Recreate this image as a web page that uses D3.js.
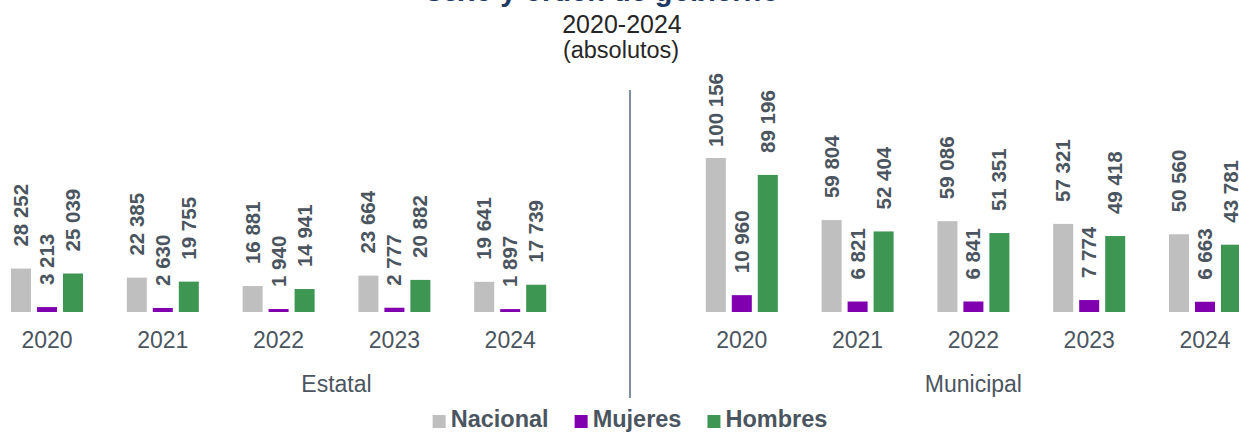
<!DOCTYPE html>
<html>
<head>
<meta charset="utf-8">
<script src="https://cdn.jsdelivr.net/npm/d3@7"></script>
<style>
  body { margin: 0; background: #fff; }
  svg { display: block; font-family: "Liberation Sans", Arial, sans-serif; }
</style>
</head>
<body>
<svg id="chart" width="1239" height="432"></svg>
<script>
// data
const years = ['2020', '2021', '2022', '2023', '2024']
const panels = ['Estatal', 'Municipal']
const series = ['Nacional', 'Mujeres', 'Hombres']
const estatalNacional = [28252, 22385, 16881, 23664, 19641]
const estatalMujeres = [3213, 2630, 1940, 2777, 1897]
const estatalHombres = [25039, 19755, 14941, 20882, 17739]
const municipalNacional = [100156, 59804, 59086, 57321, 50560]
const municipalMujeres = [10960, 6821, 6841, 7774, 6663]
const municipalHombres = [89196, 52404, 51351, 49418, 43781]
const colors = ['#bfbfbf', '#8000b0', '#3d9651']

const values = {
  Estatal: [estatalNacional, estatalMujeres, estatalHombres],
  Municipal: [municipalNacional, municipalMujeres, municipalHombres]
}

const svg = d3.select('#chart')
const textColor = '#4b5560'

// slots: 5 years, an empty slot, 5 years
const slots = [...years.map(y => 'E' + y), 'gap', ...years.map(y => 'M' + y)]
const x = d3.scaleBand().domain(slots).range([-10.9, 1262.9])
const xi = d3.scaleBand().domain(series).range([-36, 36]).paddingInner(0.23)
const y = d3.scaleLinear().domain([0, 110000]).range([312, 312 - 169.1])

const rows = []
panels.forEach(p => {
  years.forEach((yr, i) => {
    series.forEach((s, j) => {
      rows.push({ slot: p[0] + yr, serie: s, value: values[p][j][i], color: colors[j] })
    })
  })
})

const cx = d => x(d.slot) + x.bandwidth() / 2 + xi(d.serie)

// title (top line cut by the frame)
svg.append('text')
  .attr('x', 426).attr('y', 0.5)
  .style('font', 'bold 29px "Liberation Sans", Arial, sans-serif')
  .attr('fill', '#1f3864')
  .text('sexo y orden de gobierno')

svg.append('text')
  .attr('x', 622).attr('y', 33)
  .attr('text-anchor', 'middle')
  .style('font-size', '25px')
  .attr('fill', '#262626')
  .text('2020-2024')

svg.append('text')
  .attr('x', 621).attr('y', 58)
  .attr('text-anchor', 'middle')
  .style('font-size', '23.5px')
  .attr('fill', '#262626')
  .text('(absolutos)')

// bars
svg.append('g').selectAll('rect')
  .data(rows)
  .enter()
  .append('rect')
  .attr('x', d => cx(d))
  .attr('y', d => y(d.value))
  .attr('width', xi.bandwidth())
  .attr('height', d => y(0) - y(d.value))
  .attr('fill', d => d.color)

// value labels, rotated
const fmt = v => d3.format(',')(v).replace(/,/g, ' ')
svg.append('g').selectAll('text')
  .data(rows)
  .enter()
  .append('text')
  .style('font', 'bold 20.5px "Liberation Sans", Arial, sans-serif')
  .attr('fill', textColor)
  .text(d => fmt(d.value))
  .each(function (d) {
    const len = this.getComputedTextLength()
    let base = y(d.value) - 22
    if (base - len < 73) base = 73 + len
    const tx = cx(d) + xi.bandwidth() / 2 + 7
    d3.select(this).attr('transform', 'translate(' + tx + ',' + base + ') rotate(-90)')
  })

// year labels
svg.append('g').selectAll('text')
  .data(slots.filter(s => s !== 'gap'))
  .enter()
  .append('text')
  .attr('x', d => x(d) + x.bandwidth() / 2)
  .attr('y', 348)
  .attr('text-anchor', 'middle')
  .style('font-size', '23px')
  .attr('fill', textColor)
  .text(d => d.slice(1))

// panel labels
svg.append('text')
  .attr('x', x('E2022') + x.bandwidth())
  .attr('y', 392)
  .attr('text-anchor', 'middle')
  .style('font-size', '23px')
  .attr('fill', textColor)
  .text(panels[0])
svg.append('text')
  .attr('x', x('M2022') + x.bandwidth() / 2)
  .attr('y', 392)
  .attr('text-anchor', 'middle')
  .style('font-size', '23px')
  .attr('fill', textColor)
  .text(panels[1])

// divider between panels
const gx = x('gap') + x.bandwidth() / 2 + 4
svg.append('line')
  .attr('x1', gx).attr('x2', gx)
  .attr('y1', 90).attr('y2', 398)
  .attr('stroke', '#7f90a0')
  .attr('stroke-width', 2)

// legend
const legend = svg.append('g')
let lx = 0
series.forEach((s, i) => {
  const g = legend.append('g').attr('transform', 'translate(' + lx + ',0)')
  g.append('rect').attr('x', 0).attr('y', 415).attr('width', 13).attr('height', 13).attr('fill', colors[i])
  const t = g.append('text')
    .attr('x', 18).attr('y', 427)
    .style('font', 'bold 23.5px "Liberation Sans", Arial, sans-serif')
    .attr('fill', textColor)
    .text(s)
  lx += 18 + t.node().getComputedTextLength() + 26
})
lx -= 26
legend.attr('transform', 'translate(' + (630 - lx / 2) + ',0)')
</script>
</body>
</html>
